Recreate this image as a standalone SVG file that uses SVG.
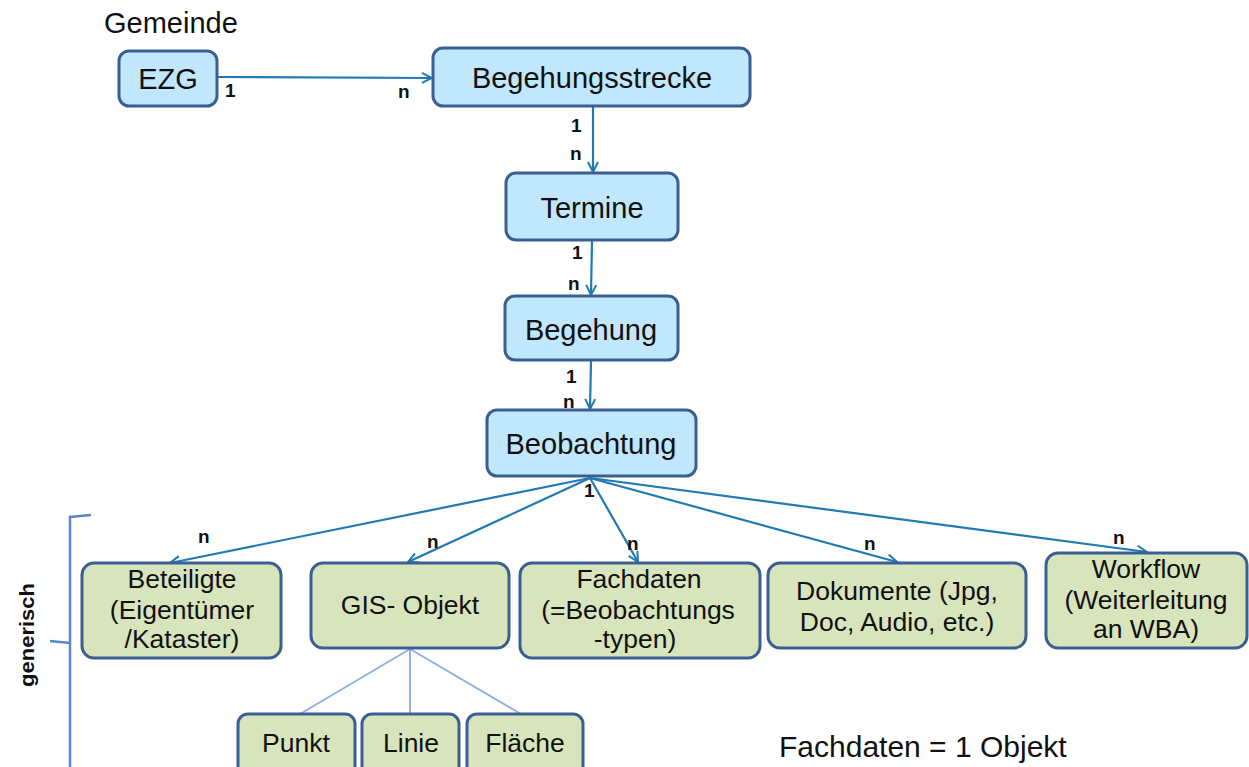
<svg xmlns="http://www.w3.org/2000/svg" width="1249" height="767" viewBox="0 0 1249 767">
<style>
text{font-family:"Liberation Sans",Arial,sans-serif;fill:#111}
.b{fill:#c0e7fb;stroke:#3a5f92;stroke-width:3}
.g{fill:#d8e4bc;stroke:#3a5f92;stroke-width:3}
.t{font-size:29px;text-anchor:middle}
.s{font-size:26.5px;text-anchor:middle}
.l{font-size:19px;font-weight:bold}
.c{stroke:#1f7ab5;stroke-width:2.2;fill:none}
.sub{stroke:#8fb0e0;stroke-width:2;fill:none}
</style>
<defs>
<marker id="ah" viewBox="0 0 12 12" refX="11" refY="6" markerWidth="12" markerHeight="12" markerUnits="userSpaceOnUse" orient="auto">
<path d="M1,1 L11,6 L1,11" fill="none" stroke="#1f7ab5" stroke-width="2"/>
</marker>
</defs>
<rect width="1249" height="767" fill="#fff"/>
<text x="104" y="33" font-size="29">Gemeinde</text>
<g id="connectors">
<line class="c" x1="218" y1="77" x2="432" y2="78" marker-end="url(#ah)"/>
<line class="c" x1="593" y1="107" x2="593" y2="172" marker-end="url(#ah)"/>
<line class="c" x1="592" y1="241" x2="591" y2="295" marker-end="url(#ah)"/>
<line class="c" x1="591" y1="361" x2="590" y2="409" marker-end="url(#ah)"/>
<line class="c" x1="590" y1="478" x2="170" y2="563" marker-end="url(#ah)"/>
<line class="c" x1="590" y1="478" x2="408" y2="562" marker-end="url(#ah)"/>
<line class="c" x1="590" y1="478" x2="638" y2="562" marker-end="url(#ah)"/>
<line class="c" x1="590" y1="478" x2="897" y2="562" marker-end="url(#ah)"/>
<line class="c" x1="590" y1="478" x2="1147" y2="552" marker-end="url(#ah)"/>
<line class="sub" x1="410" y1="649" x2="300" y2="714"/>
<line class="sub" x1="410" y1="649" x2="410" y2="714" stroke="#6a8fcf"/>
<line class="sub" x1="410" y1="649" x2="521" y2="714"/>
</g>
<g id="labels">
<text class="l" x="225" y="97">1</text>
<text class="l" x="398" y="98">n</text>
<text class="l" x="571" y="132">1</text>
<text class="l" x="570" y="160">n</text>
<text class="l" x="572" y="259">1</text>
<text class="l" x="568" y="290">n</text>
<text class="l" x="566" y="383">1</text>
<text class="l" x="563" y="408">n</text>
<text class="l" x="584" y="497">1</text>
<text class="l" x="198" y="543">n</text>
<text class="l" x="427" y="548">n</text>
<text class="l" x="627" y="550">n</text>
<text class="l" x="864" y="550">n</text>
<text class="l" x="1113" y="544">n</text>
</g>
<g id="ezg"><rect class="b" x="119" y="51" width="98" height="55" rx="10"/><text class="t" x="168" y="89">EZG</text></g>
<g id="begehungsstrecke"><rect class="b" x="433" y="48" width="317" height="58" rx="10"/><text class="t" x="592" y="88">Begehungsstrecke</text></g>
<g id="termine"><rect class="b" x="506" y="173" width="172" height="67" rx="10"/><text class="t" x="592" y="218">Termine</text></g>
<g id="begehung"><rect class="b" x="505" y="296" width="173" height="64" rx="10"/><text class="t" x="591" y="340">Begehung</text></g>
<g id="beobachtung"><rect class="b" x="487" y="410" width="209" height="66" rx="10"/><text class="t" x="591" y="454">Beobachtung</text></g>
<g id="beteiligte"><rect class="g" x="82" y="563" width="199" height="95" rx="12"/><text class="s" x="182" y="588">Beteiligte</text><text class="s" x="182" y="619">(Eigentümer</text><text class="s" x="182" y="648">/Kataster)</text></g>
<g id="gis"><rect class="g" x="311" y="563" width="198" height="85" rx="12"/><text class="s" x="410" y="614">GIS- Objekt</text></g>
<g id="fachdaten"><rect class="g" x="520" y="563" width="240" height="95" rx="12"/><text class="s" x="639" y="588">Fachdaten</text><text class="s" x="638" y="619">(=Beobachtungs</text><text class="s" x="635" y="648">-typen)</text></g>
<g id="dokumente"><rect class="g" x="768" y="563" width="258" height="85" rx="12"/><text class="s" x="897" y="600">Dokumente (Jpg,</text><text class="s" x="897" y="631">Doc, Audio, etc.)</text></g>
<g id="workflow"><rect class="g" x="1046" y="553" width="201" height="95" rx="12"/><text class="s" x="1146" y="578">Workflow</text><text class="s" x="1146" y="609">(Weiterleitung</text><text class="s" x="1146" y="638">an WBA)</text></g>
<g id="punkt"><rect class="g" x="238" y="714" width="117" height="62" rx="10"/><text class="s" x="296" y="752">Punkt</text></g>
<g id="linie"><rect class="g" x="362" y="714" width="97" height="62" rx="10"/><text class="s" x="411" y="752">Linie</text></g>
<g id="flaeche"><rect class="g" x="467" y="714" width="116" height="62" rx="10"/><text class="s" x="525" y="752">Fläche</text></g>
<path d="M91,515 L70,517 L70,767 M70,643 L50,641" fill="none" stroke="#5b88c8" stroke-width="2.5"/>
<text x="34" y="635" font-size="20" font-weight="bold" text-anchor="middle" textLength="104" lengthAdjust="spacingAndGlyphs" transform="rotate(-90 34 635)">generisch</text>
<text x="779" y="757" font-size="30">Fachdaten = 1 Objekt</text>
</svg>
